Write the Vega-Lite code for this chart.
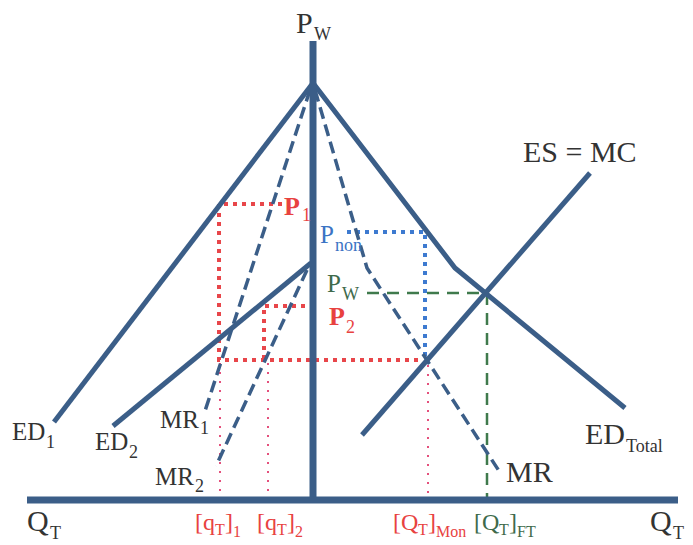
{
  "$schema": "https://vega.github.io/schema/vega-lite/v6.json",
  "autosize": {"type": "fit", "contains": "padding"},
  "width": 693,
  "height": 545,
  "padding": 0,
  "background": "white",
  "config": {"view": {"stroke": null}, "text": {"font": "Liberation Serif"}},
  "datasets": {
    "axes": [
      {"s": "v", "i": 0, "x": 313, "y": 41}, {"s": "v", "i": 1, "x": 313, "y": 503},
      {"s": "h", "i": 0, "x": 27, "y": 500}, {"s": "h", "i": 1, "x": 678, "y": 500}
    ],
    "solid": [
      {"s": "ED1", "i": 0, "x": 313, "y": 83}, {"s": "ED1", "i": 1, "x": 54, "y": 422},
      {"s": "ED2", "i": 0, "x": 311, "y": 263}, {"s": "ED2", "i": 1, "x": 113, "y": 426},
      {"s": "EDT", "i": 0, "x": 313, "y": 83}, {"s": "EDT", "i": 1, "x": 455, "y": 268}, {"s": "EDT", "i": 2, "x": 625, "y": 408},
      {"s": "ES", "i": 0, "x": 362, "y": 435}, {"s": "ES", "i": 1, "x": 590, "y": 173}
    ],
    "dashed": [
      {"s": "MR1", "i": 0, "x": 310, "y": 90}, {"s": "MR1", "i": 1, "x": 204, "y": 414},
      {"s": "MR2", "i": 0, "x": 307, "y": 270}, {"s": "MR2", "i": 1, "x": 216, "y": 466},
      {"s": "MR", "i": 0, "x": 315, "y": 90}, {"s": "MR", "i": 1, "x": 367, "y": 268}, {"s": "MR", "i": 2, "x": 501, "y": 474}
    ],
    "reddot": [
      {"s": "P1", "i": 0, "x": 282, "y": 204}, {"s": "P1", "i": 1, "x": 219, "y": 204}, {"s": "P1", "i": 2, "x": 219, "y": 360}, {"s": "P1", "i": 3, "x": 421, "y": 360},
      {"s": "P2", "i": 0, "x": 305, "y": 306}, {"s": "P2", "i": 1, "x": 264, "y": 306}, {"s": "P2", "i": 2, "x": 264, "y": 360}
    ],
    "pinkdot": [
      {"s": "q1", "i": 0, "x": 220, "y": 363}, {"s": "q1", "i": 1, "x": 220, "y": 497},
      {"s": "q2", "i": 0, "x": 268, "y": 363}, {"s": "q2", "i": 1, "x": 268, "y": 497},
      {"s": "qm", "i": 0, "x": 428, "y": 365}, {"s": "qm", "i": 1, "x": 428, "y": 497}
    ],
    "bluedot": [
      {"s": "Pnon", "i": 0, "x": 347, "y": 232}, {"s": "Pnon", "i": 1, "x": 425, "y": 232}, {"s": "Pnon", "i": 2, "x": 425, "y": 356}
    ],
    "greendash": [
      {"s": "Pw", "i": 0, "x": 367, "y": 293}, {"s": "Pw", "i": 1, "x": 487, "y": 293}, {"s": "Pw", "i": 2, "x": 487, "y": 497}
    ],
    "big": [
      {"t": "P", "x": 296, "y": 33, "c": "k"},
      {"t": "ES = MC", "x": 523, "y": 162, "c": "k"},
      {"t": "Q", "x": 27, "y": 531, "c": "k"},
      {"t": "Q", "x": 650, "y": 531, "c": "k"},
      {"t": "MR", "x": 506, "y": 482, "c": "k"},
      {"t": "ED", "x": 585, "y": 444, "c": "k"}
    ],
    "main": [
      {"t": "ED", "x": 12, "y": 440, "c": "k"},
      {"t": "ED", "x": 95, "y": 450, "c": "k"},
      {"t": "MR", "x": 160, "y": 428, "c": "k"},
      {"t": "MR", "x": 155, "y": 485, "c": "k"},
      {"t": "P", "x": 320, "y": 243, "c": "b"},
      {"t": "P", "x": 327, "y": 292, "c": "g"}
    ],
    "bold": [
      {"t": "P", "x": 284, "y": 215, "c": "r"},
      {"t": "P", "x": 329, "y": 325, "c": "r"}
    ],
    "sub": [
      {"t": "W", "x": 314, "y": 40, "c": "k"},
      {"t": "T", "x": 50, "y": 539, "c": "k"},
      {"t": "T", "x": 673, "y": 539, "c": "k"},
      {"t": "Total", "x": 626, "y": 452, "c": "k"},
      {"t": "1", "x": 46, "y": 448, "c": "k"},
      {"t": "2", "x": 129, "y": 458, "c": "k"},
      {"t": "1", "x": 200, "y": 434, "c": "k"},
      {"t": "2", "x": 195, "y": 492, "c": "k"},
      {"t": "non", "x": 335, "y": 251, "c": "b"},
      {"t": "W", "x": 342, "y": 300, "c": "g"},
      {"t": "1", "x": 302, "y": 221, "c": "r"},
      {"t": "2", "x": 346, "y": 333, "c": "r"}
    ],
    "bottom": [
      {"t": "[q", "x": 195, "y": 530, "c": "r"}, {"t": "]", "x": 225, "y": 530, "c": "r"},
      {"t": "[q", "x": 257, "y": 530, "c": "r"}, {"t": "]", "x": 287, "y": 530, "c": "r"},
      {"t": "[Q", "x": 393, "y": 530, "c": "r"}, {"t": "]", "x": 428, "y": 530, "c": "r"},
      {"t": "[Q", "x": 474, "y": 530, "c": "g"}, {"t": "]", "x": 509, "y": 530, "c": "g"}
    ],
    "bottomsub": [
      {"t": "T", "x": 215, "y": 535, "c": "r"}, {"t": "1", "x": 233, "y": 537, "c": "r"},
      {"t": "T", "x": 277, "y": 535, "c": "r"}, {"t": "2", "x": 295, "y": 537, "c": "r"},
      {"t": "T", "x": 418, "y": 535, "c": "r"}, {"t": "Mon", "x": 436, "y": 537, "c": "r"},
      {"t": "T", "x": 499, "y": 535, "c": "g"}, {"t": "FT", "x": 517, "y": 537, "c": "g"}
    ]
  },
  "encoding": {
    "x": {"field": "x", "type": "quantitative", "scale": {"domain": [0, 693], "nice": false, "zero": false}, "axis": null},
    "y": {"field": "y", "type": "quantitative", "scale": {"domain": [0, 545], "nice": false, "zero": false, "reverse": true}, "axis": null}
  },
  "layer": [
    {"data": {"name": "pinkdot"}, "mark": {"type": "line", "color": "#e4507c", "strokeWidth": 2, "strokeDash": [2, 7]},
     "encoding": {"detail": {"field": "s"}, "order": {"field": "i"}}},
    {"data": {"name": "reddot"}, "mark": {"type": "line", "color": "#e8464a", "strokeWidth": 4, "strokeDash": [4, 5], "strokeJoin": "miter"},
     "encoding": {"detail": {"field": "s"}, "order": {"field": "i"}}},
    {"data": {"name": "bluedot"}, "mark": {"type": "line", "color": "#3d7ad0", "strokeWidth": 4, "strokeDash": [4, 5], "strokeJoin": "miter"},
     "encoding": {"detail": {"field": "s"}, "order": {"field": "i"}}},
    {"data": {"name": "greendash"}, "mark": {"type": "line", "color": "#3f7a4c", "strokeWidth": 2.5, "strokeDash": [12, 8]},
     "encoding": {"detail": {"field": "s"}, "order": {"field": "i"}}},
    {"data": {"name": "dashed"}, "mark": {"type": "line", "color": "#3b5e88", "strokeWidth": 3.5, "strokeDash": [12, 6]},
     "encoding": {"detail": {"field": "s"}, "order": {"field": "i"}}},
    {"data": {"name": "solid"}, "mark": {"type": "line", "color": "#3b5e88", "strokeWidth": 5, "strokeCap": "butt"},
     "encoding": {"detail": {"field": "s"}, "order": {"field": "i"}}},
    {"data": {"name": "axes"}, "mark": {"type": "line", "color": "#3b5e88", "strokeWidth": 7, "strokeCap": "butt"},
     "encoding": {"detail": {"field": "s"}, "order": {"field": "i"}}},
    {"data": {"name": "big"}, "mark": {"type": "text", "fontSize": 30, "align": "left", "baseline": "alphabetic"},
     "encoding": {"text": {"field": "t"}, "color": {"field": "c", "type": "nominal", "scale": {"domain": ["k", "r", "b", "g"], "range": ["#333333", "#e8423f", "#3b74c4", "#3e6a4b"]}, "legend": null}}},
    {"data": {"name": "main"}, "mark": {"type": "text", "fontSize": 25, "align": "left", "baseline": "alphabetic"},
     "encoding": {"text": {"field": "t"}, "color": {"field": "c", "type": "nominal", "scale": {"domain": ["k", "r", "b", "g"], "range": ["#333333", "#e8423f", "#3b74c4", "#3e6a4b"]}, "legend": null}}},
    {"data": {"name": "bold"}, "mark": {"type": "text", "fontSize": 26, "fontWeight": "bold", "align": "left", "baseline": "alphabetic"},
     "encoding": {"text": {"field": "t"}, "color": {"field": "c", "type": "nominal", "scale": {"domain": ["k", "r", "b", "g"], "range": ["#333333", "#e8423f", "#3b74c4", "#3e6a4b"]}, "legend": null}}},
    {"data": {"name": "sub"}, "mark": {"type": "text", "fontSize": 18, "align": "left", "baseline": "alphabetic"},
     "encoding": {"text": {"field": "t"}, "color": {"field": "c", "type": "nominal", "scale": {"domain": ["k", "r", "b", "g"], "range": ["#333333", "#e8423f", "#3b74c4", "#3e6a4b"]}, "legend": null}}},
    {"data": {"name": "bottom"}, "mark": {"type": "text", "fontSize": 24, "align": "left", "baseline": "alphabetic"},
     "encoding": {"text": {"field": "t"}, "color": {"field": "c", "type": "nominal", "scale": {"domain": ["k", "r", "b", "g"], "range": ["#333333", "#e8423f", "#3b74c4", "#3e6a4b"]}, "legend": null}}},
    {"data": {"name": "bottomsub"}, "mark": {"type": "text", "fontSize": 16, "align": "left", "baseline": "alphabetic"},
     "encoding": {"text": {"field": "t"}, "color": {"field": "c", "type": "nominal", "scale": {"domain": ["k", "r", "b", "g"], "range": ["#333333", "#e8423f", "#3b74c4", "#3e6a4b"]}, "legend": null}}}
  ]
}
